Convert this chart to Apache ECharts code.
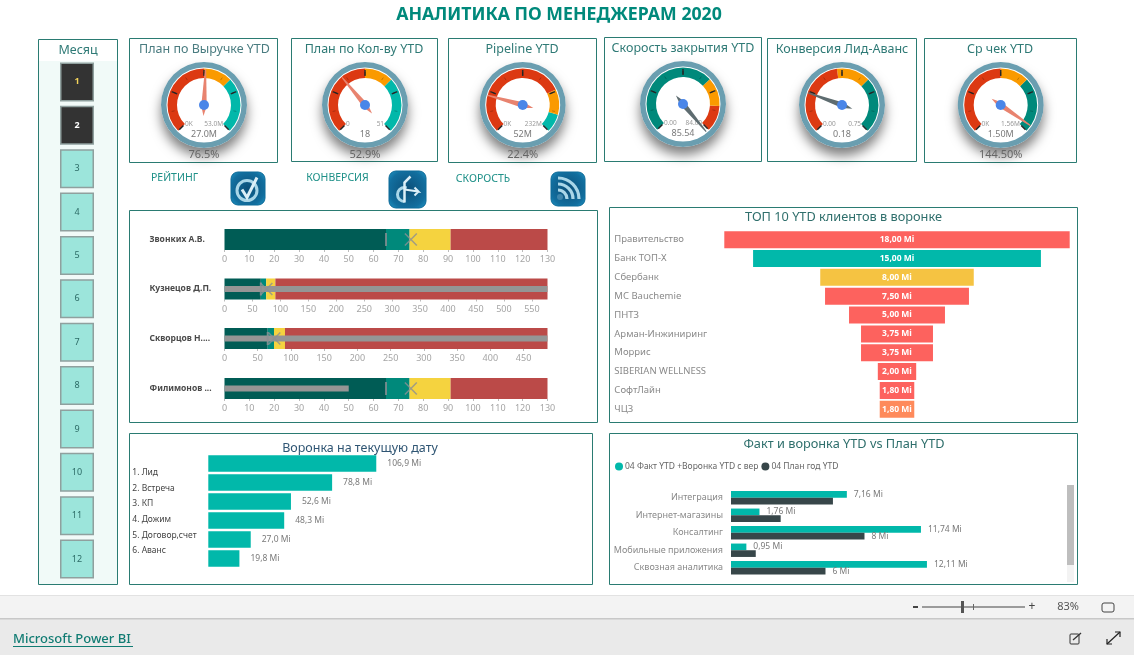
<!DOCTYPE html>
<html><head><meta charset="utf-8">
<style>html,body{margin:0;padding:0;background:#fff;overflow:hidden}#c{width:1134px;height:655px}</style>
<script src="https://cdn.jsdelivr.net/npm/echarts@6/dist/echarts.min.js"></script>
</head><body><div id="c"></div>
<script>
// ---------- DATA ----------
const months = ['1','2','3','4','5','6','7','8','9','10','11','12'];
const selectedMonths = ['1','2'];

const gaugeTitles = ['План по Выручке YTD','План по Кол-ву YTD','Pipeline YTD','Скорость закрытия YTD','Конверсия Лид-Аванс','Ср чек YTD'];
const gaugeValues = [27.0, 18, 52, 85.54, 0.18, 1.50];
const gaugeMaxes  = [53.0, 51, 232, 84.00, 0.75, 1.56];
const gaugeValueLabels = ['27.0M','18','52M','85.54','0.18','1.50M'];
const gaugeMinLabels = ['0K','0','0K','0.00','0.00','0K'];
const gaugeMaxLabels = ['53.0M','51','232M','84.00','0.75','1.56M'];
const gaugePercents = ['76.5%','52.9%','22.4%','','','144.50%'];
const gaugeStops = [[0.5,0.67],[0.5,0.67],[0.74,0.89],[0.675,0.845],[0.47,0.67],[0.5,0.67]];

const bulletNames = ['Звонких А.В.','Кузнецов Д.П.','Скворцов Н....','Филимонов ...'];
const bulletMax = [130, 578, 486, 130];
const bulletInterval = [10, 50, 50, 10];
const bulletBand1 = 65, bulletBand2 = 74.5, bulletBand3 = 91;
const bulletMeasure = [null, 578, 486, 50];
const bulletTarget = [65, 65, 65, 65];
const bulletCross = [75, 75, 75, 75];

const clientNames = ['Правительство','Банк ТОП-Х','Сбербанк','MC Bauchemie','ПНТЗ','Арман-Инжиниринг','Моррис','SIBERIAN WELLNESS','СофтЛайн','ЧЦЗ'];
const clientValues = [18, 15, 8, 7.5, 5, 3.75, 3.75, 2, 1.8, 1.8];
const clientLabels = ['18,00 Mi','15,00 Mi','8,00 Mi','7,50 Mi','5,00 Mi','3,75 Mi','3,75 Mi','2,00 Mi','1,80 Mi','1,80 Mi'];

const stageNames = ['1. Лид','2. Встреча','3. КП','4. Дожим','5. Договор,счет','6. Аванс'];
const stageValues = [106.9, 78.8, 52.6, 48.3, 27.0, 19.8];
const stageLabels = ['106,9 Mi','78,8 Mi','52,6 Mi','48,3 Mi','27,0 Mi','19,8 Mi'];

const factCats = ['Интеграция','Интернет-магазины','Консалтинг','Мобильные приложения','Сквозная аналитика'];
const factValues = [7.16, 1.76, 11.74, 0.95, 12.11];
const factLabels = ['7,16 Mi','1,76 Mi','11,74 Mi','0,95 Mi','12,11 Mi'];
const planValues = [6.3, 3.07, 8.25, 1.53, 5.84];
const planLabels = ['','','8 Mi','','6 Mi'];
const factName = '04 Факт YTD +Воронка YTD с вер';
const planName = '04 План год YTD';

// ---------- STYLE / LAYOUT ----------
const FONT = '"Noto Sans","Open Sans",sans-serif';
const TEAL = '#2A7B72', RED='#DC3912', ORG='#FA9A00', GRN='#01B8AA', DGRN='#00897B';
const panels = [[38,39,79,545],[129,38,148,124],[291,38,146,123],[448,38,148,124],[604,37,157,124],[767,38,149,123],[924,38,152,124],[129,210,468,212],[609,207,468,215],[129,433,463,151],[609,433,468,151]];
const gaugeCx = [204,365,522.7,683,842,1000.7];
const gaugeCy = [105,105,105,104,105,105];
const gaugeArcColors = [[RED,ORG,GRN],[RED,ORG,GRN],[RED,ORG,GRN],[DGRN,ORG,RED],[RED,ORG,DGRN],[RED,ORG,DGRN]];
const pointerColors = ['#E8836F','#E8836F','#E8836F','#5E6C70','#5E6C70','#E8836F'];
const gaugeTitleX = [199.5,359,517,678,837,995];
const bulletTop = [229,278.5,328,378];

const grids=[], xAxes=[], yAxes=[], series=[], titles=[], graphics=[];

function addGrid(g,x,y){grids.push(g);const gi=grids.length-1;
  const xi=[];const yi=[];
  (x||[]).forEach(a=>{xAxes.push(Object.assign({gridIndex:gi},a));xi.push(xAxes.length-1)});
  (y||[]).forEach(a=>{yAxes.push(Object.assign({gridIndex:gi},a));yi.push(yAxes.length-1)});
  return {x:xi,y:yi};}
const hiddenVal=(min,max)=>({type:'value',min,max,show:false,splitLine:{show:false}});

// panels
panels.forEach(p=>graphics.push({type:'rect',silent:true,z:0,shape:{x:p[0]+.5,y:p[1]+.5,width:p[2],height:p[3]},style:{fill:'#fff',stroke:TEAL,lineWidth:1}}));
// month pale bg
graphics.push({type:'rect',silent:true,z:0,shape:{x:39,y:61,width:78,height:523},style:{fill:'#F1FAF8'}});

// titles
titles.push({text:'АНАЛИТИКА ПО МЕНЕДЖЕРАМ 2020',left:554,top:1,textAlign:'center',textStyle:{fontFamily:FONT,fontWeight:'bold',fontSize:17.7,color:'#00897B'}});
titles.push({text:'Месяц',left:73,top:39,textAlign:'center',textStyle:{fontFamily:FONT,fontWeight:'normal',fontSize:12.5,color:'#2F7A76'}});
gaugeTitles.forEach((t,i)=>titles.push({text:t,left:gaugeTitleX[i],top:i==3?37:38,textAlign:'center',textStyle:{fontFamily:FONT,fontWeight:'normal',fontSize:12.5,color:i==0?'#4A7C80':'#2F7A76'}}));
[['РЕЙТИНГ',169.5,168],['КОНВЕРСИЯ',332.5,168],['СКОРОСТЬ',478,169]].forEach(a=>titles.push({text:a[0],left:a[1],top:a[2],textAlign:'center',textStyle:{fontFamily:FONT,fontWeight:'normal',fontSize:10.5,color:'#1E9088'}}));
titles.push({text:'ТОП 10 YTD клиентов в воронке',left:838.5,top:206,textAlign:'center',textStyle:{fontFamily:FONT,fontWeight:'normal',fontSize:12.75,color:'#2F6F6C'}});
titles.push({text:'Воронка на текущую дату',left:355,top:437,textAlign:'center',textStyle:{fontFamily:FONT,fontWeight:'normal',fontSize:12.5,color:'#2F5573'}});
titles.push({text:'Факт и воронка YTD vs План YTD',left:839,top:433,textAlign:'center',textStyle:{fontFamily:FONT,fontWeight:'normal',fontSize:12.75,color:'#2F6F6C'}});

// month slicer
{const a=addGrid({left:60,top:60.2,width:34,height:520.6},[hiddenVal(0,1)],[{type:'category',inverse:true,data:months,show:false}]);
 series.push({type:'bar',xAxisIndex:a.x[0],yAxisIndex:a.y[0],barWidth:39,silent:true,z:3,
  data:months.map(m=>{const sel=selectedMonths.includes(m);return {value:1,itemStyle:{color:sel?'#333333':'#9CE5DB',borderColor:'#8FA09E',borderWidth:1.5},
    label:{show:true,position:'inside',formatter:m,fontFamily:FONT,fontSize:9,fontWeight:sel?'bold':'normal',color:m==='1'?'#F3D35B':(sel?'#fff':'#2C6B66')}}})});}

// gauges
gaugeTitles.forEach((t,i)=>{
  const c=[gaugeCx[i],gaugeCy[i]], cols=gaugeArcColors[i], st=gaugeStops[i], mx=gaugeMaxes[i];
  // shadow disc
  series.push({type:'pie',silent:true,center:c,radius:[0,43],z:1,label:{show:false},labelLine:{show:false},emphasis:{disabled:true},animation:false,
    data:[{value:1,itemStyle:{color:'#fff',shadowBlur:12,shadowOffsetY:8,shadowColor:'rgba(0,0,0,.5)'}}]});
  // ring
  series.push({type:'gauge',silent:true,center:c,radius:43,startAngle:90,endAngle:-270,z:2,
    axisLine:{lineStyle:{width:5.5,color:[[1,'#6A9EB0']]}},pointer:{show:false},axisTick:{show:false},splitLine:{show:false},axisLabel:{show:false},detail:{show:false},title:{show:false},data:[]});
  // arc, ticks, end labels
  series.push({type:'gauge',silent:true,center:c,radius:36.5,startAngle:225,endAngle:-45,min:0,max:mx,splitNumber:4,z:3,
    axisLine:{lineStyle:{width:9.5,color:[[st[0],cols[0]],[st[1],cols[1]],[1,cols[2]]]}},
    pointer:{show:false},detail:{show:false},title:{show:false},data:[],
    splitLine:{distance:-8,length:6,lineStyle:{color:'#2b2b2b',width:1.5}},
    axisTick:{splitNumber:2,distance:-6,length:3,lineStyle:{color:'rgba(0,0,0,.22)',width:1}},
    axisLabel:{distance:11.5,fontSize:6.5,fontFamily:FONT,color:'#999',
      formatter:v=>v===0?gaugeMinLabels[i]:(Math.abs(v-mx)<1e-9?gaugeMaxLabels[i]:'')}});
  // pointer, value, percent (axis extended past max so overshoot is visible)
  series.push({type:'gauge',silent:true,center:c,radius:36.5,startAngle:225,endAngle:225-270*1.1,min:0,max:mx*1.1,z:4,
    axisLine:{show:false},axisTick:{show:false},splitLine:{show:false},axisLabel:{show:false},
    pointer:{icon:'path://M4 0L6 0L10 37L5 47L0 37Z',width:5.5,length:47,offsetCenter:[0,11],itemStyle:{color:pointerColors[i]}},
    anchor:{show:true,showAbove:true,size:10,itemStyle:{color:'#4A86E8',borderWidth:0}},
    detail:{offsetCenter:[0,29],formatter:()=>gaugeValueLabels[i],fontSize:9,fontWeight:'normal',fontFamily:FONT,color:'#7a7a7a',valueAnimation:false},
    title:{offsetCenter:[0,50],fontSize:11,fontFamily:FONT,color:'#666'},
    data:[{value:gaugeValues[i],name:gaugePercents[i]}]});
});

// bullets
bulletNames.forEach((n,i)=>{
  const axisStyle={type:'value',min:0,max:bulletMax[i],interval:bulletInterval[i],splitLine:{show:false},axisLine:{show:false},
    axisTick:{show:true,length:2,lineStyle:{color:'#bbb'}},axisLabel:{margin:5,fontSize:9,fontFamily:FONT,color:'#A5A5A5',showMaxLabel:bulletMax[i]%bulletInterval[i]===0}};
  const a=addGrid({left:224.5,top:bulletTop[i],width:323,height:21},[axisStyle],[
    {type:'category',data:[n],axisLine:{show:false},axisTick:{show:false},axisLabel:{align:'left',margin:75,fontSize:8.5,fontWeight:'bold',fontFamily:FONT,color:'#4a4a4a'}},
    {type:'category',data:[n],show:false}]);
  const bands=[bulletBand1,bulletBand2-bulletBand1,bulletBand3-bulletBand2,bulletMax[i]-bulletBand3];
  ['#005C55','#00897B','#F5D33F','#BB4A48'].forEach((col,k)=>series.push({type:'bar',stack:'r'+i,silent:true,xAxisIndex:a.x[0],yAxisIndex:a.y[0],barWidth:21,z:3,data:[bands[k]],itemStyle:{color:col}}));
  series.push({type:'bar',silent:true,xAxisIndex:a.x[0],yAxisIndex:a.y[1],barWidth:6,z:4,data:[bulletMeasure[i]],itemStyle:{color:'#959595'}});
  series.push({type:'scatter',silent:true,xAxisIndex:a.x[0],yAxisIndex:a.y[1],symbol:'rect',symbolSize:[2,13],z:5,data:[[bulletTarget[i],n]],itemStyle:{color:'#8C9093'}});
  series.push({type:'scatter',silent:true,xAxisIndex:a.x[0],yAxisIndex:a.y[1],symbol:'path://M0 1L1 0L6 5L11 0L12 1L7 6L12 11L11 12L6 7L1 12L0 11L5 6Z',symbolSize:[13,13],z:5,data:[[bulletCross[i],n]],itemStyle:{color:'#8C9093'}});
});

// funnel top 10
{const a=addGrid({left:724.3,top:230.2,width:345.4,height:188.5},[hiddenVal(-9,9)],[{type:'category',inverse:true,data:clientNames,axisLine:{show:false},axisTick:{show:false},axisLabel:{align:'left',margin:110,fontSize:9.5,fontFamily:FONT,color:'#8a8a8a'}}]);
 const cols=['#FD625E','#01B8AA','#F5C342','#FD625E','#FD625E','#FD625E','#FD625E','#FD625E','#FD625E','#FE8A5B'];
 series.push({type:'custom',silent:true,xAxisIndex:a.x[0],yAxisIndex:a.y[0],z:3,encode:{x:1,y:0},
  data:clientValues.map((v,i)=>[i,v]),
  renderItem:(p,api)=>{const idx=api.value(0),v=api.value(1);const l=api.coord([-v/2,idx]),r=api.coord([v/2,idx]);const h=17;
    return {type:'rect',shape:{x:l[0],y:l[1]-h/2,width:r[0]-l[0],height:h},style:{fill:cols[idx],text:clientLabels[idx],textFill:'#fff',fontSize:8.5,fontWeight:'bold',fontFamily:FONT,textPosition:'inside'}};}});
}

// current funnel
{const a=addGrid({left:208.3,top:454,width:235.7,height:114},[hiddenVal(0,150)],[{type:'category',inverse:true,data:stageNames,show:false}]);
 series.push({type:'bar',silent:true,xAxisIndex:a.x[0],yAxisIndex:a.y[0],barWidth:16.5,z:3,data:stageValues,itemStyle:{color:GRN},
  label:{show:true,position:'right',distance:11,fontSize:8.5,fontFamily:FONT,color:'#7a7a7a',formatter:p=>stageLabels[p.dataIndex]}});
 // category labels sit on their own tighter band in the reference
 addGrid({left:208.3,top:465,width:235.7,height:93.6},[hiddenVal(0,150)],[{type:'category',inverse:true,data:stageNames,axisLine:{show:false},axisTick:{show:false},axisLabel:{align:'left',margin:76,fontSize:8.5,fontFamily:FONT,color:'#444'}}]);
}

// fact vs plan
{const a=addGrid({left:731,top:489,width:242.7,height:87.5},[hiddenVal(0,15)],[{type:'category',inverse:true,data:factCats,axisLine:{show:false},axisTick:{show:false},axisLabel:{margin:8,fontSize:9,fontFamily:FONT,color:'#8a8a8a'}}]);
 series.push({type:'bar',name:factName,silent:true,xAxisIndex:a.x[0],yAxisIndex:a.y[0],barWidth:6.7,barGap:'0%',z:3,data:factValues,itemStyle:{color:GRN},
  label:{show:true,position:'right',distance:7,fontSize:8.5,fontFamily:FONT,color:'#7a7a7a',formatter:p=>factLabels[p.dataIndex]}});
 series.push({type:'bar',name:planName,silent:true,xAxisIndex:a.x[0],yAxisIndex:a.y[0],barWidth:6.7,barGap:'0%',z:3,data:planValues,itemStyle:{color:'#374649'},
  label:{show:true,position:'right',distance:7,fontSize:8.5,fontFamily:FONT,color:'#7a7a7a',formatter:p=>planLabels[p.dataIndex]}});
}

// scrollbar
graphics.push({type:'rect',silent:true,z:5,shape:{x:1067,y:485,width:7,height:97},style:{fill:'#F3F3F3'}});
graphics.push({type:'rect',silent:true,z:6,shape:{x:1067,y:485,width:7,height:80},style:{fill:'#BEBEBE'}});

// icons
function icon(x,y,w,h,glyph){
  graphics.push({type:'rect',silent:true,z:5,shape:{x,y,width:w,height:h,r:7},style:{fill:{type:'radial',x:.5,y:.5,r:.75,colorStops:[{offset:0,color:'#0C4F78'},{offset:.65,color:'#126E9E'},{offset:1,color:'#22A3D3'}]},stroke:'#0D6A98',lineWidth:1}});
  glyph(x+w/2,y+h/2);
}
const gl='#A9D6E8';
icon(231,172,34,33,(cx,cy)=>{
  graphics.push({type:'circle',silent:true,z:6,shape:{cx:cx-1,cy:cy+2,r:10},style:{fill:'none',stroke:gl,lineWidth:3}});
  graphics.push({type:'polyline',silent:true,z:6,shape:{points:[[cx-6,cy+1],[cx-1,cy+9],[cx+9,cy-11]]},style:{fill:'none',stroke:'#DCEFF7',lineWidth:3}});
});
icon(389,171,37,37,(cx,cy)=>{
  graphics.push({type:'arc',silent:true,z:6,shape:{cx:cx-3,cy:cy+5,r:7,startAngle:Math.PI*.5,endAngle:Math.PI*1.6,clockwise:true},style:{fill:'none',stroke:gl,lineWidth:3}});
  graphics.push({type:'polyline',silent:true,z:6,shape:{points:[[cx-3,cy+13],[cx-3,cy-7],[cx+3,cy-13]]},style:{fill:'none',stroke:'#DCEFF7',lineWidth:2.5}});
  graphics.push({type:'polyline',silent:true,z:6,shape:{points:[[cx-3,cy],[cx+11,cy+2],[cx+7,cy-2],[cx+11,cy+2],[cx+7,cy+6]]},style:{fill:'none',stroke:'#DCEFF7',lineWidth:2}});
});
icon(551,172,34,34,(cx,cy)=>{
  const ox=cx-10,oy=cy+10;
  graphics.push({type:'circle',silent:true,z:6,shape:{cx:ox+2,cy:oy-2,r:3},style:{fill:'#3F86AC'}});
  [9,15,21].forEach(r=>graphics.push({type:'arc',silent:true,z:6,shape:{cx:ox,cy:oy,r,startAngle:-Math.PI/2,endAngle:0,clockwise:true},style:{fill:'none',stroke:gl,lineWidth:3.2}}));
});

// footer
graphics.push({type:'rect',silent:true,z:7,shape:{x:0,y:596,width:1134,height:23},style:{fill:'#F3F3F3'}});
graphics.push({type:'rect',silent:true,z:7,shape:{x:0,y:595,width:1134,height:1},style:{fill:'#E2E2E2'}});
graphics.push({type:'rect',silent:true,z:7,shape:{x:0,y:619,width:1134,height:36},style:{fill:'#EAEAEA'}});
graphics.push({type:'rect',silent:true,z:7,shape:{x:0,y:618,width:1134,height:1.5},style:{fill:'#C8C8C8'}});
graphics.push({type:'text',silent:true,z:8,style:{x:13,y:639,text:'Microsoft Power BI',fill:'#117C73',fontSize:13,fontFamily:FONT,fontWeight:500,textVerticalAlign:'middle'}});
graphics.push({type:'rect',silent:true,z:8,shape:{x:13,y:646,width:120,height:1},style:{fill:'#117C73'}});
graphics.push({type:'rect',silent:true,z:8,shape:{x:913,y:606,width:5,height:2},style:{fill:'#444'}});
graphics.push({type:'rect',silent:true,z:8,shape:{x:922,y:606.5,width:103,height:1},style:{fill:'#444'}});
graphics.push({type:'rect',silent:true,z:8,shape:{x:961,y:601,width:3,height:12},style:{fill:'#555'}});
graphics.push({type:'rect',silent:true,z:8,shape:{x:973,y:604,width:1,height:6},style:{fill:'#666'}});
graphics.push({type:'text',silent:true,z:8,style:{x:1032,y:607,text:'+',fill:'#444',fontSize:12,fontFamily:FONT,textAlign:'center',textVerticalAlign:'middle'}});
graphics.push({type:'text',silent:true,z:8,style:{x:1068,y:607,text:'83%',fill:'#555',fontSize:11,fontFamily:FONT,textAlign:'center',textVerticalAlign:'middle'}});
graphics.push({type:'rect',silent:true,z:8,shape:{x:1102,y:603,width:12,height:9,r:2},style:{fill:'none',stroke:'#444',lineWidth:1}});
// share & expand icons
graphics.push({type:'rect',silent:true,z:8,shape:{x:1070,y:634,width:9,height:10,r:1},style:{fill:'none',stroke:'#333',lineWidth:1}});
graphics.push({type:'polyline',silent:true,z:8,shape:{points:[[1073,640],[1081,633]]},style:{fill:'none',stroke:'#333',lineWidth:1.3}});
graphics.push({type:'polyline',silent:true,z:8,shape:{points:[[1107,644],[1120,632]]},style:{fill:'none',stroke:'#222',lineWidth:1.2}});
graphics.push({type:'polyline',silent:true,z:8,shape:{points:[[1115,632],[1120,632],[1120,637]]},style:{fill:'none',stroke:'#222',lineWidth:1.2}});
graphics.push({type:'polyline',silent:true,z:8,shape:{points:[[1107,639],[1107,644],[1112,644]]},style:{fill:'none',stroke:'#222',lineWidth:1.2}});

const chart=echarts.init(document.getElementById('c'),null,{renderer:'canvas'});
chart.setOption({animation:false,backgroundColor:'#fff',title:titles,grid:grids,xAxis:xAxes,yAxis:yAxes,series,
  legend:{left:610,top:457,icon:'circle',itemWidth:8,itemHeight:8,itemGap:3,selectedMode:false,data:[factName,planName],textStyle:{fontFamily:FONT,fontSize:8.5,color:'#666',padding:[0,0,0,-3]}},
  graphic:{elements:graphics}});
</script></body></html>
